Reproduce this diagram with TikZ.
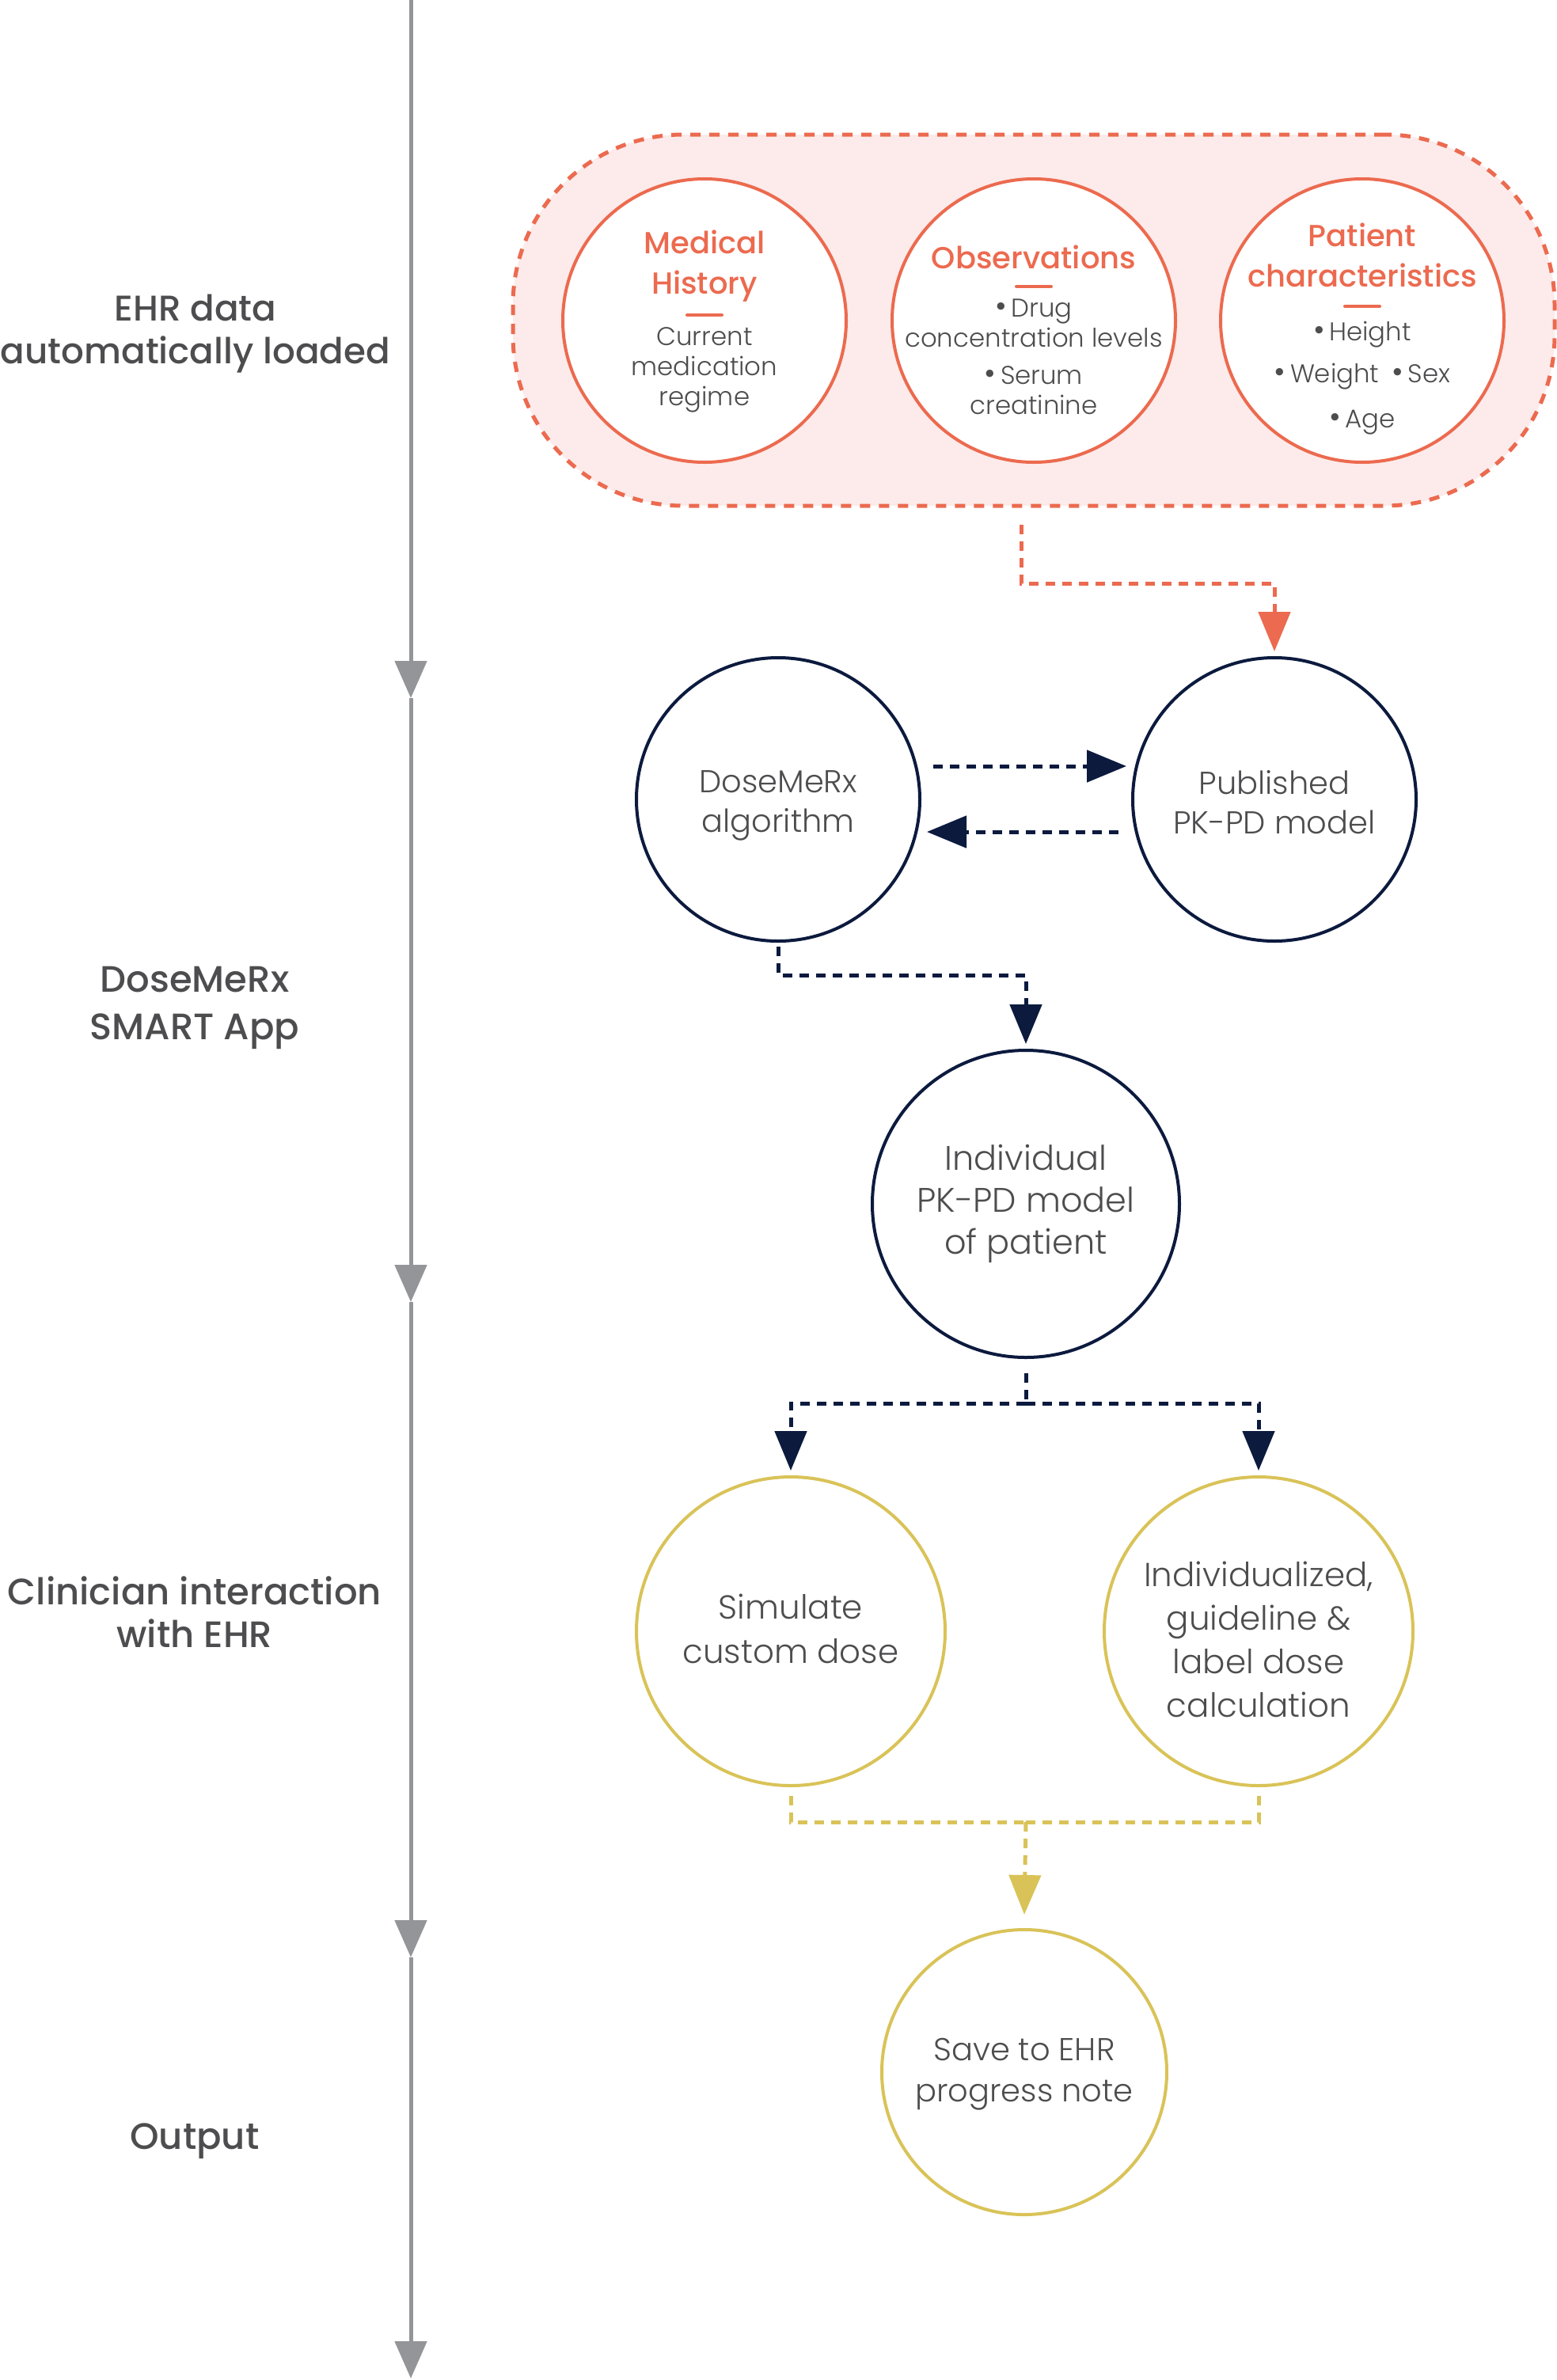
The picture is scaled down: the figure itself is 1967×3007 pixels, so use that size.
\documentclass[tikz,border=0pt]{standalone}
\usepackage{fontspec}
\IfFontExistsTF{Poppins Light}{\setmainfont{Poppins Light}}{\setmainfont{Poppins}}
\IfFontExistsTF{Poppins Medium}{\newfontfamily\medfont{Poppins Medium}}{\newfontfamily\medfont{Poppins}}
\usetikzlibrary{arrows.meta}
\definecolor{ehrorange}{HTML}{EC6A4F}
\definecolor{ehrpink}{HTML}{FCEBEA}
\definecolor{navy}{HTML}{0C1A3E}
\definecolor{gold}{HTML}{D9C358}
\definecolor{axisgray}{HTML}{939598}
\definecolor{txtgray}{HTML}{4D4D4F}
\newcommand{\fsz}[2]{\fontsize{#1}{#2}\selectfont}
\newcommand{\bul}{{\fontsize{40}{38}\selectfont\textbullet}\,}
\begin{document}
\begin{tikzpicture}[x=1pt,y=-1pt,
  every node/.style={inner sep=0pt, outer sep=0pt},
  circ/.style={circle, draw, line width=4pt, fill=white, minimum size=#1, inner sep=0pt},
  ctext/.style={text=txtgray, align=center},
  ttl/.style={text=ehrorange, align=center, font=\medfont\fsz{38.5}{51}},
  smallbody/.style={text=txtgray, align=center, font=\fsz{32.4}{38}},
  lbl/.style={text=txtgray, align=center, font=\medfont\fsz{46.5}{#1}},
  conn/.style={line width=5pt, dash pattern=on 12pt off 9pt},
  arrowtip/.style={-{Triangle[width=40pt,length=50pt]}},
  axisline/.style={draw=axisgray, line width=5pt, -{Triangle[width=40pt,length=47pt]}},
  dashmark/.style={ehrorange, line width=4pt, line cap=round}
]
\useasboundingbox (0,0) rectangle (1967,3007);
\fill[white] (0,0) rectangle (1967,3007);

% timeline axis
\coordinate (a0) at (519,0);
\coordinate (a1) at (519,882);
\coordinate (a2) at (519,1645);
\coordinate (a3) at (519,2473);
\coordinate (a4) at (519,3005);
\draw[axisline] (a0) -- (a1);
\draw[axisline] (a1) -- (a2);
\draw[axisline] (a2) -- (a3);
\draw[axisline] (a3) -- (a4);

% left labels
\node[lbl=54, font=\medfont\fsz{45.2}{54}] (l1) at (247,422) {EHR data\\automatically loaded};
\node[lbl=60] (l2) at (246,1273) {DoseMeRx\\SMART App};
\node[lbl=54] (l3) at (246,2037) {Clinician interaction\\with EHR};
\node[lbl=57] (l4) at (246,2705) {Output};

% EHR data box
\node[draw=ehrorange, fill=ehrpink, line width=5pt, dash pattern=on 13pt off 11pt,
      rounded corners=215pt, minimum width=1316pt, minimum height=469pt] (ehrbox) at (1306,404.5) {};

\node[circ=358pt, draw=ehrorange] (medhist) at (890,405) {};
\node[circ=358pt, draw=ehrorange] (obs) at (1306,405) {};
\node[circ=358pt, draw=ehrorange] (patient) at (1721,405) {};

\node[ttl] (medhist-t) at (890,336) {Medical\\History};
\draw[dashmark] (868,398) -- (912,398);
\node[smallbody] (medhist-b) at (890,467) {Current\\medication\\regime};

\node[ttl] (obs-t) at (1306,325) {Observations};
\draw[dashmark] (1284,362) -- (1328,362);
\node[smallbody] (obs-b) at (1306,451) {\bul Drug\\concentration levels\\[9pt]\bul Serum\\creatinine};

\node[ttl] (patient-t) at (1721,322) {Patient\\characteristics};
\draw[dashmark] (1699,387) -- (1743,387);
\node[smallbody] (patient-b) at (1721,478) {\bul Height\\[15pt]\bul Weight\hspace{16pt}\bul Sex\\[19pt]\bul Age};

% DoseMeRx app
\node[circ=358pt, draw=navy] (dose) at (983,1010) {};
\node[ctext, font=\fsz{40}{50}] (dose-t) at (983,1018) {DoseMeRx\\algorithm};
\node[circ=358pt, draw=navy] (pub) at (1610,1010) {};
\node[ctext, font=\fsz{40}{50}] (pub-t) at (1610,1014) {Published\\PK-PD model};
\node[circ=388pt, draw=navy] (indiv) at (1296,1521) {};
\node[ctext, font=\fsz{43}{53}] (indiv-t) at (1296,1521) {Individual\\PK-PD model\\of patient};

\coordinate (o1) at (1290,663);
\coordinate (o2) at (1290,737);
\draw[conn, draw=ehrorange, arrowtip] (o1) -- (o2) -| ([yshift=8pt]pub.north);

\draw[conn, draw=navy, arrowtip] ([xshift=17pt,yshift=42pt]dose.east) -- ([xshift=-8pt,yshift=42pt]pub.west);
\draw[conn, draw=navy, arrowtip] ([xshift=-18pt,yshift=-41pt]pub.west) -- ([xshift=9pt,yshift=-41pt]dose.east);

\coordinate (j1) at (983,1232);
\draw[conn, draw=navy, arrowtip] ([yshift=-7pt]dose.south) -- (j1) -| ([yshift=8pt]indiv.north);

% clinician interaction
\node[circ=390pt, draw=gold] (sim) at (999,2061) {};
\node[ctext, font=\fsz{42}{56}] (sim-t) at (999,2058) {Simulate\\custom dose};
\node[circ=390pt, draw=gold] (indz) at (1590,2061) {};
\node[ctext, font=\fsz{42}{55}] (indz-t) at (1590,2071) {Individualized,\\guideline \&\\label dose\\calculation};

\coordinate (j2) at (1296,1773);
\draw[conn, draw=navy] ([yshift=-20pt]indiv.south) -- (j2);
\draw[conn, draw=navy, arrowtip] (j2) -| ([yshift=8pt]sim.north);
\draw[conn, draw=navy, arrowtip] (j2) -| ([yshift=8pt]indz.north);

% output
\node[circ=360pt, draw=gold] (save) at (1294,2618) {};
\node[ctext, font=\fsz{40}{52}] (save-t) at (1294,2621) {Save to EHR\\progress note};

\coordinate (j3) at (1296,2302);
\draw[conn, draw=gold] ([yshift=-13pt]sim.south) |- (j3);
\draw[conn, draw=gold] ([yshift=-13pt]indz.south) |- (j3);
\draw[conn, draw=gold, arrowtip] (j3) -- ([yshift=19pt]save.north);
\end{tikzpicture}
\end{document}
